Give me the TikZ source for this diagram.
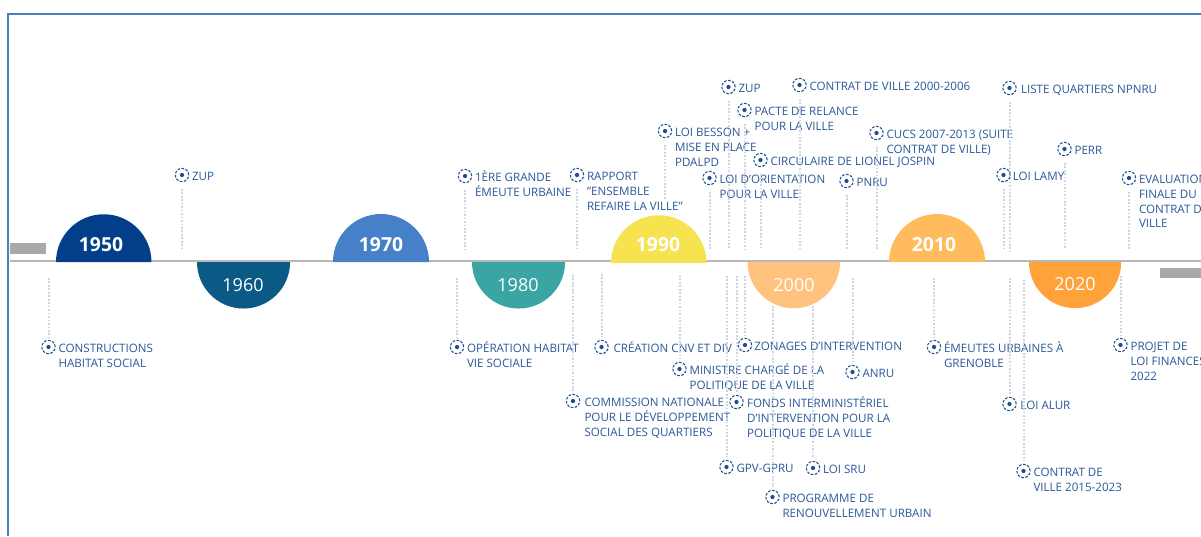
\documentclass[tikz,border=0pt]{standalone}
\usepackage{fontspec}
\setmainfont{Open Sans}
\usepackage{tikz}
\usetikzlibrary{positioning}

\definecolor{framec}{HTML}{4A7EC0}
\definecolor{axisc}{HTML}{B8B8B8}
\definecolor{stubc}{HTML}{A9A9A9}
\definecolor{navyc}{HTML}{1F4E8C}
\definecolor{textc}{HTML}{2A5798}
\definecolor{leadc}{HTML}{CDD5E1}
\definecolor{ya}{HTML}{023E8A}
\definecolor{yb}{HTML}{0B5A85}
\definecolor{yc}{HTML}{4580C8}
\definecolor{yd}{HTML}{3AA5A3}
\definecolor{ye}{HTML}{F7E34F}
\definecolor{yf}{HTML}{FFC37F}
\definecolor{yg}{HTML}{FFBB5C}
\definecolor{yh}{HTML}{FFA23A}

\newcommand{\capline}{\rule{0pt}{8.6pt}}

\tikzset{
	target/.style={circle, draw=navyc, line width=0.8pt, dash pattern=on 2pt off 1.1pt, minimum size=10pt, inner sep=0pt,
		path picture={\fill[navyc] (path picture bounding box.center) circle (1.6pt);}},
	evtext/.style={anchor=north west, inner sep=0pt, yshift=0.6pt, align=left, text=textc, font=\fontsize{8.7}{11}\selectfont},
	leadup/.style={draw=leadc, line width=1.5pt, dash pattern=on 1.3pt off 1.3pt, shorten <=5pt},
	leaddown/.style={draw=leadc, line width=1.5pt, dash pattern=on 1.3pt off 1.3pt, shorten >=2pt},
	yearbold/.style={text=white, inner sep=0pt, font=\fontsize{14.5}{15}\selectfont\bfseries},
	yearthin/.style={text=white, inner sep=0pt, font=\fontsize{13.5}{14}\selectfont}
}

\begin{document}
\begin{tikzpicture}[x=0.75pt, y=-0.75pt]
	\useasboundingbox (0,0) rectangle (1201,536);
	\draw [line width=1.4pt, draw=framec] (1201,14) -- (8,14) -- (8,536);

	% axis and stubs
	\fill [stubc] (10,243) rectangle (46,254);
	\fill [stubc] (1160,268) rectangle (1201,278);
	\draw [line width=2pt, draw=axisc] (10,261) -- (1201,261);

	% half discs
	\fill [ya] (56,262) arc [start angle=180, end angle=0, radius=35.8pt] -- cycle;
	\fill [yc] (333,262) arc [start angle=180, end angle=0, radius=36pt] -- cycle;
	\fill [ye] (611,263) arc [start angle=180, end angle=0, radius=35.8pt] -- cycle;
	\fill [yg] (889,262) arc [start angle=180, end angle=0, radius=36pt] -- cycle;
	\fill [yb] (197,262) arc [start angle=180, end angle=360, radius=34.9pt] -- cycle;
	\fill [yd] (472,262) arc [start angle=180, end angle=360, radius=34.9pt] -- cycle;
	\fill [yf] (747.5,262) arc [start angle=180, end angle=360, radius=34.7pt] -- cycle;
	\fill [yh] (1029,262) arc [start angle=180, end angle=360, radius=34.6pt] -- cycle;

	\node [yearbold] (y1950) at (101,245) {1950};
	\node [yearthin] (y1960) at (243,285) {1960};
	\node [yearbold] (y1970) at (381,245) {1970};
	\node [yearthin] (y1980) at (518,285) {1980};
	\node [yearbold] (y1990) at (658,245) {1990};
	\node [yearthin] (y2000) at (794,285) {2000};
	\node [yearbold] (y2010) at (934,245) {2010};
	\node [yearthin] (y2020) at (1075,284) {2020};

	% events above the axis
	\node [target] (zupa) at (182,175) {};
	\node [right=3.5pt of zupa.north east, evtext] (zupatxt) {\capline ZUP};
	\coordinate (zupaend) at (182,249);
	\draw [leadup] (zupa) -- (zupaend);

	\node [target] (emeute) at (465,176) {};
	\node [right=3.5pt of emeute.north east, evtext] (emeutetxt) {\capline 1ÈRE GRANDE\\ÉMEUTE URBAINE};
	\coordinate (emeuteend) at (465,249);
	\draw [leadup] (emeute) -- (emeuteend);

	\node [target] (rapport) at (577,175) {};
	\node [right=3.5pt of rapport.north east, evtext] (rapporttxt) {\capline RAPPORT\\"ENSEMBLE\\REFAIRE LA VILLE"};
	\coordinate (rapportend) at (577,248);
	\draw [leadup] (rapport) -- (rapportend);

	\node [target] (besson) at (665,131) {};
	\node [right=3.5pt of besson.north east, evtext] (bessontxt) {\capline LOI BESSON +\\MISE EN PLACE\\PDALPD};
	\coordinate (bessonend) at (665,200);
	\draw [leadup] (besson) -- (bessonend);

	\node [target] (orient) at (709.5,178) {};
	\node [right=3.5pt of orient.north east, evtext] (orienttxt) {\capline LOI D'ORIENTATION\\POUR LA VILLE};
	\coordinate (orientend) at (709.5,250);
	\draw [leadup] (orient) -- (orientend);

	\node [target] (zupb) at (728.5,87) {};
	\node [right=3.5pt of zupb.north east, evtext] (zupbtxt) {\capline ZUP};
	\coordinate (zupbend) at (728.5,249);
	\draw [leadup] (zupb) -- (zupbend);

	\node [target] (pacte) at (744.5,110) {};
	\node [right=3.5pt of pacte.north east, evtext] (pactetxt) {\capline PACTE DE RELANCE\\POUR LA VILLE};
	\coordinate (pacteend) at (744.5,249);
	\draw [leadup] (pacte) -- (pacteend);

	\node [target] (circul) at (760.5,160) {};
	\node [right=3.5pt of circul.north east, evtext] (circultxt) {\capline CIRCULAIRE DE LIONEL JOSPIN};
	\coordinate (circulend) at (760.5,249);
	\draw [leadup] (circul) -- (circulend);

	\node [target] (contrata) at (799.5,85) {};
	\node [right=3.5pt of contrata.north east, evtext] (contratatxt) {\capline CONTRAT DE VILLE 2000-2006};
	\coordinate (contrataend) at (799.5,249);
	\draw [leadup] (contrata) -- (contrataend);

	\node [target] (pnru) at (846.5,181) {};
	\node [right=3.5pt of pnru.north east, evtext] (pnrutxt) {\capline PNRU};
	\coordinate (pnruend) at (846.5,249);
	\draw [leadup] (pnru) -- (pnruend);

	\node [target] (cucs) at (876.5,133) {};
	\node [right=3.5pt of cucs.north east, evtext] (cucstxt) {\capline CUCS 2007-2013 (SUITE\\CONTRAT DE VILLE)};
	\coordinate (cucsend) at (876.5,249);
	\draw [leadup] (cucs) -- (cucsend);

	\node [target] (liste) at (1009.5,88) {};
	\node [right=4.6pt of liste.north east, evtext] (listetxt) {\capline LISTE QUARTIERS NPNRU};
	\coordinate (listeend) at (1009.5,251);
	\draw [leadup] (liste) -- (listeend);

	\node [target] (lamy) at (1003.5,175) {};
	\node [right=3pt of lamy.north east, evtext] (lamytxt) {\capline LOI LAMY};
	\coordinate (lamyend) at (1003.5,249);
	\draw [leadup] (lamy) -- (lamyend);

	\node [target] (perr) at (1064.5,149) {};
	\node [right=3.5pt of perr.north east, evtext] (perrtxt) {\capline PERR};
	\coordinate (perrend) at (1064.5,248);
	\draw [leadup] (perr) -- (perrend);

	\node [target] (evalu) at (1129,178) {};
	\node [right=3.5pt of evalu.north east, evtext] (evalutxt) {\capline EVALUATION\\FINALE DU\\CONTRAT DE\\VILLE};
	\coordinate (evaluend) at (1129,250);
	\draw [leadup] (evalu) -- (evaluend);

	% events below the axis
	\node [target] (constr) at (48.5,347) {};
	\node [right=3.5pt of constr.north east, evtext] (constrtxt) {\capline CONSTRUCTIONS\\HABITAT SOCIAL};
	\coordinate (constrend) at (48.5,278);
	\draw [leaddown] (constrend) -- (constr);

	\node [target] (operat) at (457,347) {};
	\node [right=3.5pt of operat.north east, evtext] (operattxt) {\capline OPÉRATION HABITAT\\VIE SOCIALE};
	\coordinate (operatend) at (457,278);
	\draw [leaddown] (operatend) -- (operat);

	\node [target] (commis) at (573,401) {};
	\node [right=4.6pt of commis.north east, evtext] (commistxt) {\capline COMMISSION NATIONALE\\POUR LE DÉVELOPPEMENT\\SOCIAL DES QUARTIERS};
	\coordinate (commisend) at (573,275);
	\draw [leaddown] (commisend) -- (commis);

	\node [target] (cnv) at (601.5,347) {};
	\node [right=5pt of cnv.north east, evtext] (cnvtxt) {\capline CRÉATION CNV ET DIV};
	\coordinate (cnvend) at (601.5,274);
	\draw [leaddown] (cnvend) -- (cnv);

	\node [target] (minis) at (679.5,369) {};
	\node [right=3.5pt of minis.north east, evtext] (ministxt) {\capline MINISTRE CHARGÉ DE LA\\POLITIQUE DE LA VILLE};
	\coordinate (minisend) at (679.5,275);
	\draw [leaddown] (minisend) -- (minis);

	\node [target] (zonage) at (745,345) {};
	\node [right=3pt of zonage.north east, evtext] (zonagetxt) {\capline ZONAGES D'INTERVENTION};
	\coordinate (zonageend) at (745,276);
	\draw [leaddown] (zonageend) -- (zonage);

	\node [target] (fonds) at (736.5,402) {};
	\node [right=4pt of fonds.north east, evtext] (fondstxt) {\capline FONDS INTERMINISTÉRIEL\\D'INTERVENTION POUR LA\\POLITIQUE DE LA VILLE};
	\coordinate (fondsend) at (736.5,276);
	\draw [leaddown] (fondsend) -- (fonds);

	\node [target] (gpv) at (726.5,467) {};
	\node [right=3.5pt of gpv.north east, evtext] (gpvtxt) {\capline GPV-GPRU};
	\coordinate (gpvend) at (726.5,276);
	\draw [leaddown] (gpvend) -- (gpv);

	\node [target] (progr) at (772.5,497) {};
	\node [right=3.5pt of progr.north east, evtext] (progrtxt) {\capline PROGRAMME DE\\RENOUVELLEMENT URBAIN};
	\coordinate (progrend) at (772.5,306);
	\draw [leaddown] (progrend) -- (progr);

	\node [target] (sru) at (813,468) {};
	\node [right=3.5pt of sru.north east, evtext] (srutxt) {\capline LOI SRU};
	\coordinate (sruend) at (813,306);
	\draw [leaddown] (sruend) -- (sru);

	\node [target] (anru) at (852.5,372) {};
	\node [right=3.5pt of anru.north east, evtext] (anrutxt) {\capline ANRU};
	\coordinate (anruend) at (852.5,278);
	\draw [leaddown] (anruend) -- (anru);

	\node [target] (grenob) at (934,347) {};
	\node [right=3.5pt of grenob.north east, evtext] (grenobtxt) {\capline ÉMEUTES URBAINES À\\GRENOBLE};
	\coordinate (grenobend) at (934,278);
	\draw [leaddown] (grenobend) -- (grenob);

	\node [target] (alur) at (1009.5,404) {};
	\node [right=4.2pt of alur.north east, evtext] (alurtxt) {\capline LOI ALUR};
	\coordinate (alurend) at (1009.5,278);
	\draw [leaddown] (alurend) -- (alur);

	\node [target] (contratb) at (1023.5,471) {};
	\node [right=3.5pt of contratb.north east, evtext] (contratbtxt) {\capline CONTRAT DE\\VILLE 2015-2023};
	\coordinate (contratbend) at (1023.5,280);
	\draw [leaddown] (contratbend) -- (contratb);

	\node [target] (projet) at (1120.5,345) {};
	\node [right=3.5pt of projet.north east, evtext] (projettxt) {\capline PROJET DE\\LOI FINANCES\\2022};
	\coordinate (projetend) at (1120.5,276);
	\draw [leaddown] (projetend) -- (projet);
\end{tikzpicture}
\end{document}
